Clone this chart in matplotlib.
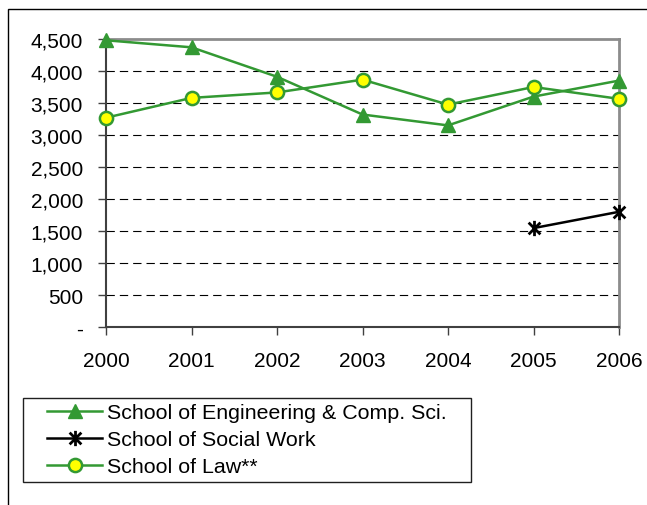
import matplotlib
matplotlib.use('Agg')
import matplotlib.pyplot as plt
from matplotlib.ticker import FuncFormatter
from matplotlib.path import Path
import numpy as np

plt.rcParams['font.family'] = ['Liberation Sans', 'DejaVu Sans']

years = [2000, 2001, 2002, 2003, 2004, 2005, 2006]
engineering = [4480, 4370, 3910, 3320, 3150, 3600, 3850]
social_years = [2005, 2006]
social_work = [1545, 1800]
law = [3270, 3580, 3665, 3865, 3475, 3750, 3565]
labels = ['School of Engineering & Comp. Sci.', 'School of Social Work',
          'School of Law**']

green = '#339933'
W, H = 647, 506

# excel style star: an X with a vertical bar
star = Path([(-1, -1), (1, 1), (-1, 1), (1, -1), (0, -1.3), (0, 1.3)],
            [Path.MOVETO, Path.LINETO, Path.MOVETO, Path.LINETO,
             Path.MOVETO, Path.LINETO])

fig = plt.figure(figsize=(W/100, H/100), dpi=100)
# outer chart frame
fig.patches.append(plt.Rectangle((8/W, -0.01), 1.0, 1 - 10/H + 0.01,
                                 transform=fig.transFigure, fill=False,
                                 edgecolor='black', linewidth=1.0))
# legend frame
fig.patches.append(plt.Rectangle((23/W, 1 - 483/H), 448/W, 84/H,
                                 transform=fig.transFigure, fill=False,
                                 edgecolor='#202020', linewidth=1.0))

ax = fig.add_axes([106/W, 1 - 328/H, 513/W, 288/H])

l1, = ax.plot(years, engineering, color=green, lw=1.8, marker='^',
              markersize=10.5, markerfacecolor=green, markeredgecolor=green,
              clip_on=False, zorder=5)
l2, = ax.plot(social_years, social_work, color='black', lw=1.8, marker=star,
              markersize=11, markeredgewidth=2.0, markeredgecolor='black',
              clip_on=False, zorder=5)
l3, = ax.plot(years, law, color=green, lw=1.8, marker='o', markersize=9.5,
              markerfacecolor='#ffff00', markeredgecolor=green,
              markeredgewidth=1.8, clip_on=False, zorder=6)

ax.set_xlim(2000, 2006)
ax.set_ylim(0, 4500)
ax.set_xticks(years)
ax.set_yticks(np.arange(0, 4501, 500))
ax.yaxis.set_major_formatter(FuncFormatter(lambda v, p: '-' if v == 0 else f'{int(v):,}'))

for yv in range(500, 4500, 500):
    ax.axhline(yv, color='black', lw=0.8, dashes=(7.5, 4.5), zorder=1)

for s in ['top', 'right']:
    ax.spines[s].set_color('#8c8c8c')
    ax.spines[s].set_linewidth(2.0)
for s in ['left', 'bottom']:
    ax.spines[s].set_color('#404040')
    ax.spines[s].set_linewidth(1.5)

ax.tick_params(axis='both', direction='out', length=5.5, width=1, labelsize=15,
               color='#404040')
ax.tick_params(axis='x', pad=11.5)
ax.tick_params(axis='y', pad=11)

leg = fig.legend([l1, l2, l3], labels,
                 loc='upper left', bbox_to_anchor=(47/W, 1 - 404/H),
                 fontsize=15.4, frameon=False, handlelength=2.58,
                 handletextpad=0.24, borderpad=0, labelspacing=0.38,
                 borderaxespad=0)

fig.savefig('out.png', dpi=100)
